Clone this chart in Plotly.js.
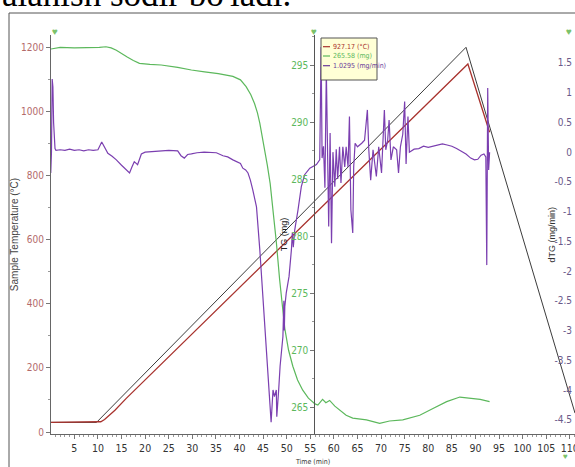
<!DOCTYPE html>
<html><head><meta charset="utf-8">
<script src="https://cdn.plot.ly/plotly-3.0.1.min.js"></script>
<style>html,body{margin:0;padding:0;background:#fff;}#chart{width:575px;height:467px;}</style>
</head><body><div id="chart"></div>
<script>
// Sample temperature (°C), red
const tempTime = [0, 10, 10.6, 11.4, 12.4, 13.6, 16, 88.4, 93];
const tempValue = [30, 30, 32, 39, 51, 68, 105, 1148, 935];
// Program temperature (°C), dark line
const progTime = [0, 9.7, 88, 111.1];
const progValue = [30, 30, 1200, 59];
// TG (mg), green
const tgTime = [0, 2, 5, 8, 10.3, 11.7, 12.8, 13.9, 15, 16.2, 17.5, 18.8, 21, 23.4, 26.9, 29.8, 32.6, 35.5, 38.6, 40.2, 41.4, 42.4, 43.2, 43.8, 44.3, 44.8, 45.3, 45.9, 46.5, 47.1, 47.8, 48.5, 49.1, 49.6, 50.4, 51.3, 52.3, 53.4, 54.6, 55.5, 56.0, 56.6, 57.1, 57.6, 58.3, 59.1, 60.2, 61.4, 62.6, 64, 66.9, 69.7, 71.8, 74.6, 78.2, 81, 83.9, 86.7, 89.4, 91, 93];
const tgValue = [296.4, 296.55, 296.5, 296.5, 296.55, 296.6, 296.5, 296.3, 296.0, 295.7, 295.4, 295.15, 295.05, 295.0, 294.8, 294.56, 294.4, 294.25, 294.0, 293.7, 293.1, 292.4, 291.6, 290.8, 289.9, 288.8, 287.6, 286.2, 284.6, 282.3, 279.5, 276.2, 273.6, 271.9, 270.0, 268.6, 267.4, 266.5, 265.8, 265.45, 265.3, 265.2, 265.5, 265.7, 265.4, 265.6, 265.1, 264.7, 264.3, 264.05, 263.9, 263.6, 263.8, 263.9, 264.3, 264.9, 265.5, 265.9, 265.8, 265.7, 265.5];
// dTG (mg/min), purple
const dtgTime = [0, 0.15, 0.3, 0.45, 0.6, 0.75, 0.9, 1.1, 2, 3, 4, 5, 6, 7, 8, 9, 10, 10.8, 11.4, 12.1, 13, 13.9, 15, 16.3, 16.7, 17.2, 17.7, 18.4, 19.2, 20, 21.3, 23, 25, 26.9, 27.6, 28.3, 29, 29.8, 31, 32.5, 34, 35.1, 36.5, 37.5, 38.6, 39.5, 40.2, 40.7, 41.3, 41.8, 42.3, 42.8, 43.6, 44.3, 45, 45.7, 46.4, 46.7, 47.1, 47.4, 47.8, 47.9, 48.3, 48.6, 49.2, 49.4, 49.5, 49.6, 49.9, 50.5, 51.0, 51.2, 51.4, 51.7, 52.4, 53.1, 53.8, 54.9, 56.3, 57.0, 57.3, 57.5, 57.8, 58.1, 58.4, 58.6, 58.9, 59.2, 59.5, 59.8, 60.2, 60.5, 60.8, 61.2, 61.5, 61.9, 62.3, 62.6, 63.0, 63.3, 63.6, 64.0, 64.2, 64.5, 65.0, 65.9, 66.5, 67.1, 67.4, 67.8, 68.3, 69.0, 69.5, 70.1, 70.7, 71.0, 71.4, 71.7, 72.1, 72.6, 73.3, 73.7, 74.1, 74.6, 75.0, 75.3, 75.7, 76.0, 77, 78, 79, 80, 81, 82, 83, 84, 85, 86, 87, 88, 89, 89.8, 90.5, 91.2, 91.8, 92.2, 92.4, 92.6, 92.8, 93.0];
const dtgValue = [-0.35, 0.0, 1.23, 1.1, 0.5, 0.1, 0.06, 0.03, 0.04, 0.03, 0.05, 0.03, 0.04, 0.02, 0.04, 0.03, 0.04, 0.17, 0.08, -0.02, -0.07, -0.13, -0.22, -0.33, -0.35, -0.25, -0.16, -0.21, -0.03, 0.0, 0.01, 0.02, 0.03, 0.02, -0.06, -0.1, -0.04, -0.03, -0.01, 0.0, -0.01, -0.01, -0.06, -0.08, -0.13, -0.16, -0.19, -0.27, -0.3, -0.35, -0.47, -0.63, -0.92, -1.64, -2.49, -3.33, -4.11, -4.54, -4.0, -4.11, -4.0, -4.45, -4.0, -3.6, -3.1, -2.5, -3.0, -2.6, -2.37, -2.09, -1.64, -1.35, -1.6, -1.31, -0.97, -0.58, -0.38, -0.27, -0.21, -0.13, 1.77, -0.1, 0.1, -0.6, 1.38, 0.2, -1.25, 0.32, -1.53, 0.0, -0.58, 0.05, -0.45, 0.09, -0.52, 0.09, -0.25, 0.09, -0.25, 0.6, -0.97, -1.36, -0.25, 0.15, 0.09, 0.15, 0.2, 0.71, 0.04, -0.47, 0.04, -0.41, 0.09, -0.35, 0.71, 0.04, 0.2, 0.54, -0.13, 0.09, 0.04, -0.35, 0.09, 0.3, 0.85, -0.2, 0.6, 0.0, 0.05, 0.06, 0.1, 0.08, 0.1, 0.12, 0.14, 0.12, 0.1, 0.06, 0.02, -0.03, -0.1, -0.13, -0.12, -0.05, -0.03, -0.08, -1.9, 1.08, -0.3, 0.0];
// Axis ticks
const xTicks = [5, 10, 15, 20, 25, 30, 35, 40, 45, 50, 55, 60, 65, 70, 75, 80, 85, 90, 95, 100, 105, 110];
const dtgTickVals = [1.5, 1, 0.5, 0, -0.5, -1, -1.5, -2, -2.5, -3, -3.5, -4, -4.5];
const dtgTickText = ['1.5', '1', '0.5', '0', '-0.5', '-1', '-1.5', '-2', '-2.5', '-3', '-3.5', '-4', '-4.5'];
const legendLabels = ['927.17 (°C)', '265.58 (mg)', '1.0295 (mg/min)'];
const legendColors = ['#a8322d', '#5cb85c', '#6a3a9a'];

const L = 51, R = 575, T = 35, B = 434;
const px = x => (x - L) / (R - L);
const py = y => (B - y) / (B - T);
const narrow = "'Liberation Sans Narrow', 'DejaVu Sans Condensed', 'Arial Narrow', sans-serif";

const traces = [
  {x: progTime, y: progValue, type: 'scatter', mode: 'lines', yaxis: 'y', line: {color: '#3c3c3c', width: 1}, hoverinfo: 'skip'},
  {x: tempTime, y: tempValue, type: 'scatter', mode: 'lines', yaxis: 'y', line: {color: '#a8322d', width: 1.3}},
  {x: tgTime, y: tgValue, type: 'scatter', mode: 'lines', yaxis: 'y2', line: {color: '#5cb85c', width: 1.2}},
  {x: dtgTime, y: dtgValue, type: 'scatter', mode: 'lines', yaxis: 'y3', line: {color: '#7b3fb0', width: 1.2}}
];

const shapes = [
  {type: 'line', xref: 'paper', yref: 'paper', x0: px(9), x1: px(576), y0: py(13), y1: py(13), line: {color: '#555', width: 1}},
  {type: 'line', xref: 'paper', yref: 'paper', x0: px(9), x1: px(9), y0: py(13), y1: py(470), line: {color: '#555', width: 1}},
  {type: 'rect', xref: 'paper', yref: 'paper', x0: px(321), x1: px(377), y0: py(38), y1: py(80), fillcolor: '#ffffd6', line: {color: '#555', width: 1}}
];
const annotations = [
  {text: "alanish sodir bo'ladi.", xref: 'paper', yref: 'paper', x: px(0), y: py(16.5), xanchor: 'left', yanchor: 'bottom', showarrow: false, font: {family: "'Liberation Serif', serif", size: 35, color: '#000'}},
  {text: 'dTG (mg/min)', xref: 'paper', yref: 'paper', x: px(558), y: 0.5, textangle: -90, showarrow: false, font: {family: "'Liberation Sans', sans-serif", size: 9, color: '#333'}},
  {text: '♥', xref: 'paper', yref: 'paper', x: px(50), y: py(22), showarrow: false, font: {size: 10, color: '#7cc26a'}},
  {text: '♥', xref: 'paper', yref: 'paper', x: px(314), y: py(22), showarrow: false, font: {size: 10, color: '#7cc26a'}},
  {text: '♥', xref: 'paper', yref: 'paper', x: px(574), y: py(22), showarrow: false, font: {size: 10, color: '#7cc26a'}},
  {text: '♥', xref: 'paper', yref: 'paper', x: px(570), y: py(463), showarrow: false, font: {size: 8, color: '#7cc26a'}}
];
const legendY = [46.7, 56, 65.7];
legendLabels.forEach((lab, i) => {
  shapes.push({type: 'line', xref: 'paper', yref: 'paper', x0: px(323), x1: px(330), y0: py(legendY[i]), y1: py(legendY[i]), line: {color: legendColors[i], width: 1.2}});
  annotations.push({text: lab, xref: 'paper', yref: 'paper', x: px(331), y: py(legendY[i]), xanchor: 'left', yanchor: 'middle', showarrow: false, font: {family: narrow, size: 7, color: legendColors[i]}});
});

const layout = {
  width: 575, height: 467,
  margin: {l: L, r: 575 - R, t: T, b: 467 - B, pad: 0},
  paper_bgcolor: '#fff', plot_bgcolor: '#fff',
  showlegend: false,
  xaxis: {
    range: [0.05, 111.1], tickmode: 'array', tickvals: xTicks, ticks: 'outside', ticklen: 4, tickcolor: '#777',
    ticklabeloverflow: 'allow',
    showline: true, linecolor: '#666', linewidth: 1, showgrid: false, zeroline: false,
    minor: {dtick: 1, tick0: 0, ticks: 'outside', ticklen: 2, tickcolor: '#999'},
    tickfont: {family: narrow, size: 10.5, color: '#333'},
    title: {text: 'Time (min)', font: {family: narrow, size: 7, color: '#333'}, standoff: 6}
  },
  yaxis: {
    range: [-6.2, 1238.4], tick0: 0, dtick: 200, ticks: 'outside', ticklen: 4, tickcolor: '#777',
    showline: true, linecolor: '#666', linewidth: 1, showgrid: false, zeroline: false,
    minor: {dtick: 100, ticks: 'outside', ticklen: 2, tickcolor: '#999'},
    tickfont: {family: narrow, size: 10, color: '#b36a6a'},
    title: {text: 'Sample Temperature (°C)', font: {family: "'Liberation Sans', sans-serif", size: 10, color: '#444'}, standoff: 0}
  },
  yaxis2: {
    overlaying: 'y', anchor: 'free', position: px(314.3), side: 'left',
    range: [262.66, 297.63], tick0: 0, dtick: 5, ticks: 'outside', ticklen: 4, tickcolor: '#777',
    showline: true, linecolor: '#555', linewidth: 1, showgrid: false, zeroline: false,
    minor: {dtick: 2.5, ticks: 'outside', ticklen: 2, tickcolor: '#999'},
    tickfont: {family: narrow, size: 10, color: '#5cb85c'},
    title: {text: 'TG (mg)', font: {family: "'Liberation Sans', sans-serif", size: 9, color: '#222'}, standoff: 0}
  },
  yaxis3: {
    overlaying: 'y', anchor: 'free', position: 1, side: 'right',
    range: [-4.74, 1.97], tickmode: 'array', tickvals: dtgTickVals, ticktext: dtgTickText,
    ticklabelposition: 'inside', ticklabeloverflow: 'allow', ticks: '', showline: false, showgrid: false, zeroline: false,
    tickfont: {family: narrow, size: 10, color: '#6a5a8a'}
  },
  shapes: shapes,
  annotations: annotations
};

Plotly.newPlot('chart', traces, layout, {staticPlot: true, displayModeBar: false});
</script>
</body></html>
